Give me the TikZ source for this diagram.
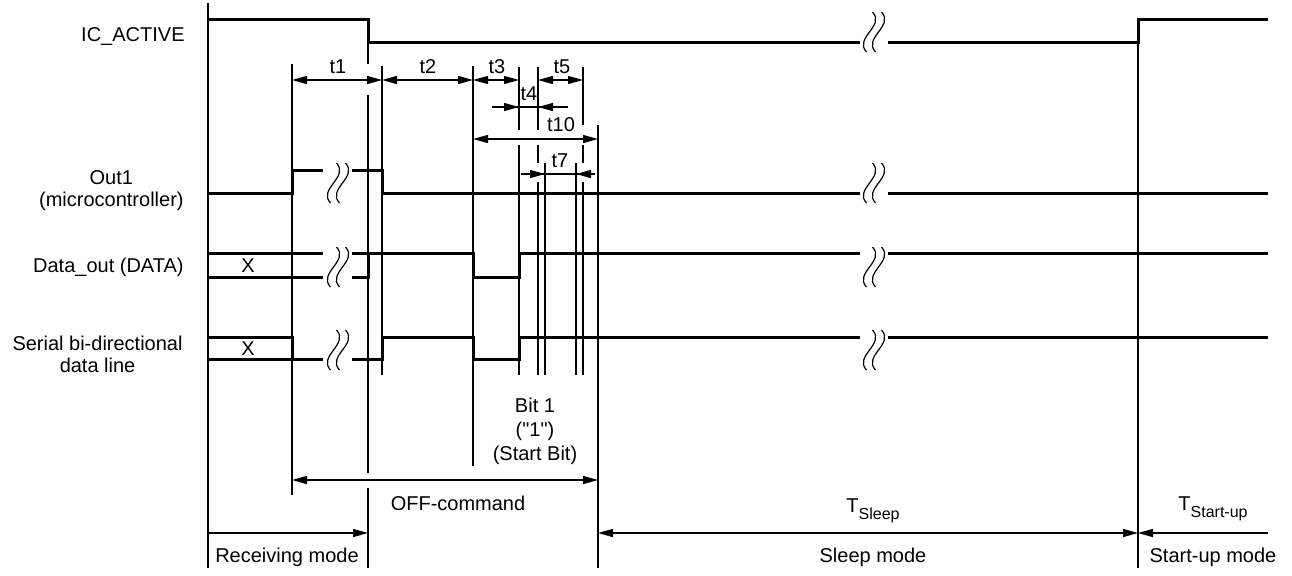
\documentclass[tikz,border=0pt]{standalone}
\usepackage{fontspec}
\setmainfont{Liberation Sans}
\usetikzlibrary{arrows.meta}
\tikzset{
  sigline/.style={line width=1.5pt, line join=miter},
  gridline/.style={line width=0.7pt},
  dimarrow/.style={gridline, {Triangle[length=7.5pt,width=4pt]}-{Triangle[length=7.5pt,width=4pt]}},
  dimhalf/.style={gridline, -{Triangle[length=7.5pt,width=4pt]}},
  lbl/.style={inner sep=0pt, font=\fontsize{10}{12}\selectfont},
  signame/.style={lbl, anchor=east, align=center, font=\fontsize{10}{11}\selectfont},
  brkwave/.pic={
    \foreach \dx in {-4.5,4.5}
      \draw[line width=0.6pt] (\dx+3,-20) .. controls (\dx+16,-6) and (\dx-16,6) .. (\dx-3,20);
  }
}
\newcommand{\tsub}[1]{T\raisebox{-3.5pt}{\fontsize{8}{9}\selectfont #1}}

\begin{document}
\begin{tikzpicture}[x=0.5pt, y=-0.5pt]
    \useasboundingbox (0,0) rectangle (1292,575);

    % ---- signal names ------------------------------------------
    \node[signame] (icname)   at (185,36)  {IC\_ACTIVE};
    \node[signame] (outname)  at (184,191) {Out1\\(microcontroller)};
    \node[signame] (dataname) at (184,267) {Data\_out (DATA)};
    \node[signame] (sername)  at (183,354) {Serial bi-directional\\data line};

    % ---- time marks ----------------------------------------------
    \foreach \x/\ya/\yb in {208/3/568, 292/64/495, 382/66/375, 473/66/466,
                            545/163/375, 576/163/375, 598/125/568, 1138/42/568}
      \draw[gridline] (\x,\ya) -- (\x,\yb);
    \draw[gridline] (368,42) -- (368,64) (368,95) -- (368,473) (368,488) -- (368,568);
    \draw[gridline] (519,67) -- (519,130) (519,145) -- (519,375);
    \draw[gridline] (538,67) -- (538,130) (538,145) -- (538,163) (538,182) -- (538,375);
    \draw[gridline] (583,67) -- (583,125) (583,145) -- (583,163) (583,182) -- (583,375);

    % ---- waveforms -----------------------------------------------
    \draw[sigline] (208,19) -- (368,19) -- (368,42) -- (860,42);
    \draw[sigline] (888,42) -- (1138,42) -- (1138,19) -- (1268,19);

    \draw[sigline] (208,193) -- (292,193) -- (292,170) -- (323,170);
    \draw[sigline] (352,170) -- (382,170) -- (382,193) -- (860,193);
    \draw[sigline] (888,193) -- (1268,193);

    \draw[sigline] (208,253) -- (323,253) (208,277) -- (323,277);
    \draw[sigline] (352,277) -- (368,277) -- (368,253);
    \draw[sigline] (352,253) -- (473,253) -- (473,277) -- (519,277) -- (519,253) -- (860,253);
    \draw[sigline] (888,253) -- (1268,253);
    \node[lbl] (datax) at (248,266) {X};

    \draw[sigline] (208,337) -- (292,337) -- (292,359);
    \draw[sigline] (208,359) -- (323,359);
    \draw[sigline] (352,359) -- (382,359) -- (382,337) -- (473,337) -- (473,359) -- (519,359) -- (519,337) -- (860,337);
    \draw[sigline] (888,337) -- (1268,337);
    \node[lbl] (serx) at (248,349) {X};

    % ---- breaks --------------------------------------------------
    \pic at (874,32) {brkwave};
    \foreach \y in {183,267,350} {
      \pic at (338,\y) {brkwave};
      \pic at (874,\y) {brkwave};
    }

    % ---- timing parameters ---------------------------------------
    \draw[dimarrow] (292,80) -- (382,80);
    \draw[dimarrow] (382,80) -- (473,80);
    \draw[dimarrow] (473,80) -- (519,80);
    \draw[dimarrow] (538,80) -- (583,80);
    \draw[gridline] (492,107) -- (568,107);
    \draw[dimhalf]  (492,107) -- (519,107);
    \draw[dimhalf]  (568,107) -- (538,107);
    \draw[dimarrow] (473,139) -- (598,139);
    \draw[gridline] (521,174) -- (595,174);
    \draw[dimhalf]  (521,174) -- (545,174);
    \draw[dimhalf]  (595,174) -- (576,174);

    \node[lbl] (t1)  at (338,67)  {t1};
    \node[lbl] (t2)  at (428,67)  {t2};
    \node[lbl] (t3)  at (497,67)  {t3};
    \node[lbl] (t5)  at (562,67)  {t5};
    \node[lbl] (t4)  at (529,94)  {t4};
    \node[lbl] (t10) at (561,125) {t10};
    \node[lbl] (t7)  at (560,161) {t7};

    \node[lbl, align=center] (bit1) at (535,431)
      {Bit 1\\(\textquotedbl 1\textquotedbl)\\(Start Bit)};

    % ---- command and modes ---------------------------------------
    \draw[dimarrow] (292,480) -- (598,480);
    \node[lbl] (offcmd) at (458,503) {OFF-command};

    \draw[dimhalf] (208,533) -- (368,533);
    \node[lbl] (recv) at (287,557) {Receiving mode};

    \draw[dimarrow] (598,533) -- (1138,533);
    \node[lbl] (tsleep) at (873,511) {\tsub{Sleep}};
    \node[lbl] (sleep)  at (873,557) {Sleep mode};

    \draw[dimhalf] (1268,533) -- (1138,533);
    \node[lbl] (tstart)  at (1213,509) {\tsub{Start-up}};
    \node[lbl] (startup) at (1213,557) {Start-up mode};

\end{tikzpicture}
\end{document}
